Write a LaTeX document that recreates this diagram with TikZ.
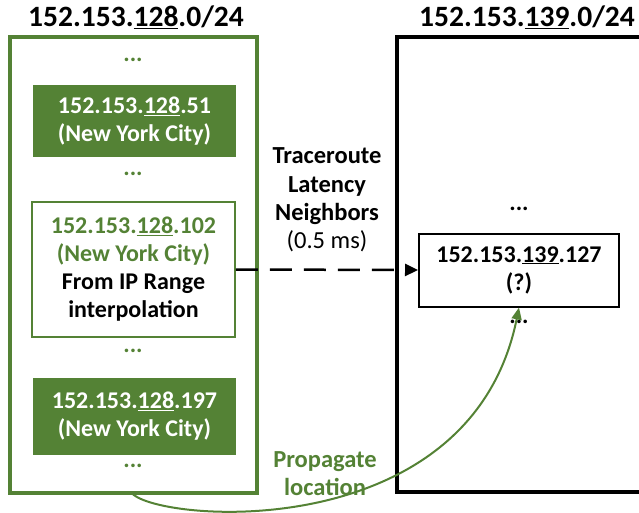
\documentclass[tikz,border=0pt]{standalone}
\usepackage{fontspec}
\setmainfont{Carlito}
\usepackage{tikz}
\usetikzlibrary{positioning, arrows.meta}

\definecolor{netgreen}{RGB}{84,130,53}

\tikzset{
  ipbox/.style={rectangle, minimum width=203pt, align=center, inner sep=2pt,
    font=\fontsize{24}{28}\selectfont\bfseries},
  filledbox/.style={ipbox, fill=netgreen, text=white, minimum height=72pt},
  dots/.style={font=\fontsize{24}{28}\selectfont\bfseries, inner sep=0pt},
  title/.style={font=\fontsize{29.5}{32}\selectfont\bfseries, inner sep=0pt}
}

\begin{document}
\begin{tikzpicture}[x=1pt, y=-1pt]
            \useasboundingbox (0,0) rectangle (639,512);
            % subnets
            \node[draw=netgreen, line width=3.5pt, minimum width=247pt, minimum height=456pt] (lnet) at (133.5,265) {};
            \draw[line width=3.5pt] (642,37) -- (397,37) -- (397,492) -- (642,492);
            \node[title] (ltitle) at (136,17) {152.153.\underline{128}.0/24};
            \node[title] (rtitle) at (527,17) {152.153.\underline{139}.0/24};
            % left subnet
            \node[dots, text=netgreen] (ldots1) at (133,60) {...};
            \node[filledbox] (ip51) at (134.5,121) {152.153.\underline{128}.51\\(New York City)};
            \node[dots, text=netgreen] (ldots2) at (133,174) {...};
            \node[ipbox, draw=netgreen, line width=1.8pt, minimum height=135pt] (ip102) at (133.5,269.5)
                {\textcolor{netgreen}{152.153.\underline{128}.102}\\\textcolor{netgreen}{(New York City)}\\From IP Range\\interpolation};
            \node[dots, text=netgreen] (ldots3) at (133,351) {...};
            \node[filledbox, minimum height=77pt] (ip197) at (134.5,416.5) {152.153.\underline{128}.197\\(New York City)};
            \node[dots, text=netgreen] (ldots4) at (133,466) {...};
            % right subnet
            \node[dots] (rdots1) at (519,209) {...};
            \node[ipbox, draw, line width=2pt, minimum width=200pt, minimum height=73pt] (ip127) at (519,270)
                {152.153.\underline{139}.127\\(?)};
            \node[dots] (rdots2) at (519,322) {...};
            % links
            \node[align=center, font=\fontsize{24.5}{28.3}\selectfont] (trlabel) at (327,200)
                {\textbf{Traceroute}\\\textbf{Latency}\\\textbf{Neighbors}\\(0.5 ms)};
            \draw[line width=2.5pt, dash pattern=on 22pt off 12pt, -{Triangle[length=13pt,width=12pt]}]
                (ip102.east) -- (ip127.west);
            \coordinate (lbottom) at (131,492);
            \draw[netgreen, line width=2pt, -{Triangle[length=12pt,width=10pt]}]
                (lbottom) .. controls (150,522) and (470,550) .. (ip127.south);
            \node[align=center, text=netgreen, font=\fontsize{24.5}{28}\selectfont\bfseries] (proplabel) at (325,474)
                {Propagate\\location};
        \end{tikzpicture}
\end{document}
